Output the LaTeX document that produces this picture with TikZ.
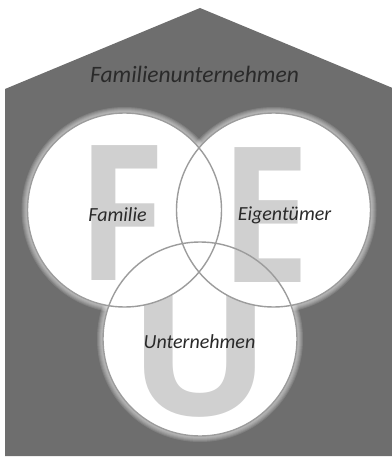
\documentclass[tikz,border=0pt]{standalone}
\usepackage{fontspec}
\setmainfont{Carlito}
\newfontfamily\bigfont{Open Sans}
\definecolor{house}{HTML}{6E6E6E}
\definecolor{letter}{HTML}{D0D0D0}
\definecolor{ring}{HTML}{9C9C9C}
\definecolor{txt}{HTML}{2A2A2A}
\tikzset{
  bigletter/.style={font=\bigfont\bfseries\fontsize{189}{189}\selectfont, text=letter, inner sep=0pt, anchor=base},
  label/.style={font=\itshape\fontsize{20}{24}\selectfont, text=txt, inner sep=0pt, anchor=base},
  glow/.style={white, opacity=0.12},
  ringline/.style={draw=ring, line width=1.4pt}
}
\begin{document}
\begin{tikzpicture}[x=1pt,y=-1pt]
\useasboundingbox (0,0) rectangle (391,457);
% house
\fill[house] (5,456) -- (5,89) -- (200,8) -- (395,89) -- (395,456) -- cycle;
\coordinate (cL) at (124.5,210);
\coordinate (cR) at (273.5,210);
\coordinate (cB) at (200,339);
% soft halo round the circles
\foreach \c in {cL,cR,cB}{
  \foreach \w in {2,4,6,8,10,12}{
    \draw[glow, line width=\w pt] (\c) circle (97pt);
  }
}
% bottom circle with U
\fill[white] (cB) circle (97pt);
\begin{scope}
  \clip (cB) circle (97pt);
  \node[bigletter] (U) at (200,415) {U};
\end{scope}
% upper circles with F and E
\fill[white] (cL) circle (97pt);
\fill[white] (cR) circle (97pt);
\node[bigletter] (F) at (121.5,280) {\scalebox{0.85}[1]{F}};
\node[bigletter] (E) at (265.5,282) {\scalebox{0.85}[1]{E}};
% outlines
\draw[ringline] (cL) circle (97pt);
\draw[ringline] (cR) circle (97pt);
\draw[ringline] (cB) circle (97pt);
% labels
\node[label, font=\itshape\fontsize{23.5}{28}\selectfont] (title) at (194.5,83) {Familienunternehmen};
\node[label] (fam) at (117.5,221) {Familie};
\node[label] (eig) at (284.5,220) {Eigentümer};
\node[label] (unt) at (199.5,348) {Unternehmen};
\end{tikzpicture}
\end{document}
